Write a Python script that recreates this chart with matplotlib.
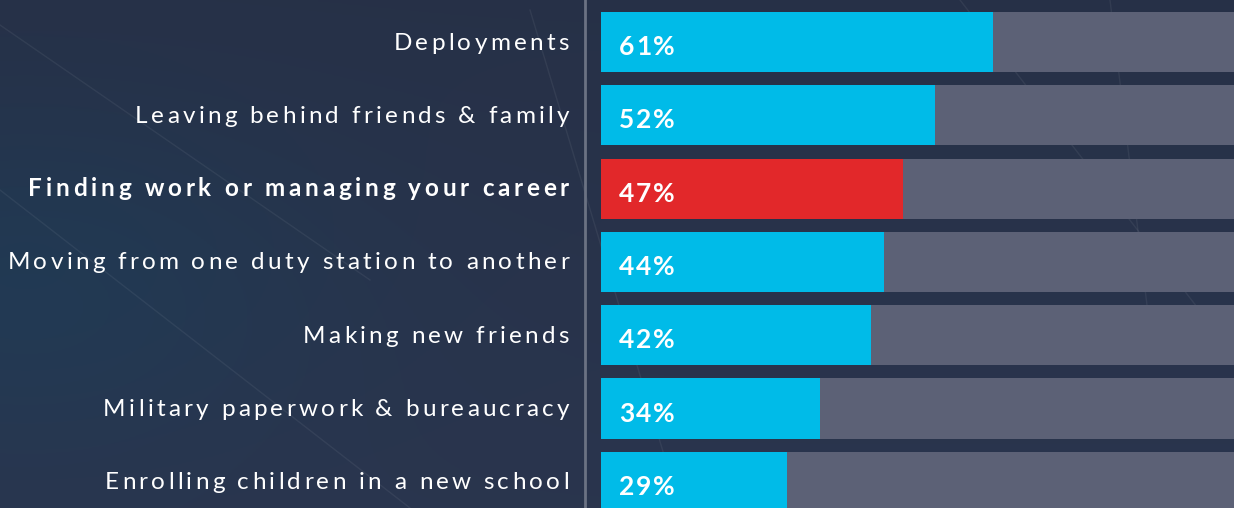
import matplotlib.pyplot as plt
import numpy as np
from matplotlib import font_manager
from matplotlib.ft2font import FT2Font, LOAD_NO_HINTING

categories = [
    "Deployments",
    "Leaving behind friends & family",
    "Finding work or managing your career",
    "Moving from one duty station to another",
    "Making new friends",
    "Military paperwork & bureaucracy",
    "Enrolling children in a new school",
]
values = [61, 52, 47, 44, 42, 34, 29]
highlight = "Finding work or managing your career"

cyan = "#00bbe8"
red = "#e2282a"
track = "#5c6176"

W, H, DPI = 1234, 508, 100
plt.rcParams["font.family"] = ["Lato", "DejaVu Sans"]


def tracked_text(ax, x, y, s, size, weight, spacing, ha="right", color="white"):
    # draw s one glyph at a time with extra letter spacing (pixel coords)
    path = font_manager.findfont(font_manager.FontProperties(family="Lato", weight=weight))
    font = FT2Font(path)
    font.set_size(size, DPI)
    adv = []
    for ch in s:
        g = font.load_char(ord(ch), flags=LOAD_NO_HINTING)
        adv.append(g.linearHoriAdvance / 65536)
    total = sum(adv) + spacing * (len(s) - 1)
    pen = x - total if ha == "right" else x
    for ch, a in zip(s, adv):
        if ch != " ":
            ax.text(pen + a / 2, y, ch, fontsize=size, fontweight=weight, color=color,
                    ha="center", va="baseline", zorder=5)
        pen += a + spacing


fig = plt.figure(figsize=(W / DPI, H / DPI), dpi=DPI)

# background gradient, pixel coordinates
bg = fig.add_axes([0, 0, 1, 1], zorder=0)
yy, xx = np.mgrid[0:1:200j, 0:1:400j]
glow = np.exp(-(((xx - 0.02) / 0.25) ** 2 + ((yy - 0.55) / 0.35) ** 2))
base = np.array([0.165, 0.208, 0.305])
tint = np.array([0.12, 0.25, 0.36])
img = base[None, None, :] * (1 - glow[..., None] * 0.6) + tint[None, None, :] * glow[..., None] * 0.6
img = img * (0.92 + 0.08 * yy[..., None])
bg.imshow(img, extent=[0, W, H, 0], aspect="auto")
for x0, y0, x1, y1 in [(0, 190, 410, 508), (0, 25, 370, 280), (1110, 0, 1150, 330),
                       (960, 0, 1234, 355), (530, 10, 680, 508)]:
    bg.plot([x0, x1], [y0, y1], color="white", alpha=0.06, lw=1)
bg.plot([585, 585], [0, H], color="#6b7283", lw=2)
bg.set_xlim(0, W)
bg.set_ylim(H, 0)
bg.axis("off")

ax = fig.add_axes([601 / W, 0, 643 / W, 1], zorder=1)
ax.set_facecolor("none")
y = np.arange(len(categories))
ax.barh(y, [100] * len(values), height=0.82, color=track, zorder=1)
colors = [red if c == highlight else cyan for c in categories]
ax.barh(y, values, height=0.82, color=colors, zorder=2)
ax.set_xlim(0, 100)
ax.set_ylim(6.357, -0.573)
ax.axis("off")

# overlay for text, pixel coordinates
top = fig.add_axes([0, 0, 1, 1], zorder=2)
top.set_xlim(0, W)
top.set_ylim(H, 0)
top.patch.set_alpha(0)
top.axis("off")

fig.canvas.draw()
for i, (c, v) in enumerate(zip(categories, values)):
    cy = H - ax.transData.transform((0, i))[1]
    if c == highlight:
        tracked_text(top, 569, cy + 7.5, c, 17.5, "bold", 3.75)
    else:
        tracked_text(top, 569, cy + 7.5, c, 17.5, "normal", 3.3)
    tracked_text(top, 619, cy + 13, f"{v}%", 19, "bold", 1.5, ha="left")

fig.savefig("out.png", dpi=DPI)
